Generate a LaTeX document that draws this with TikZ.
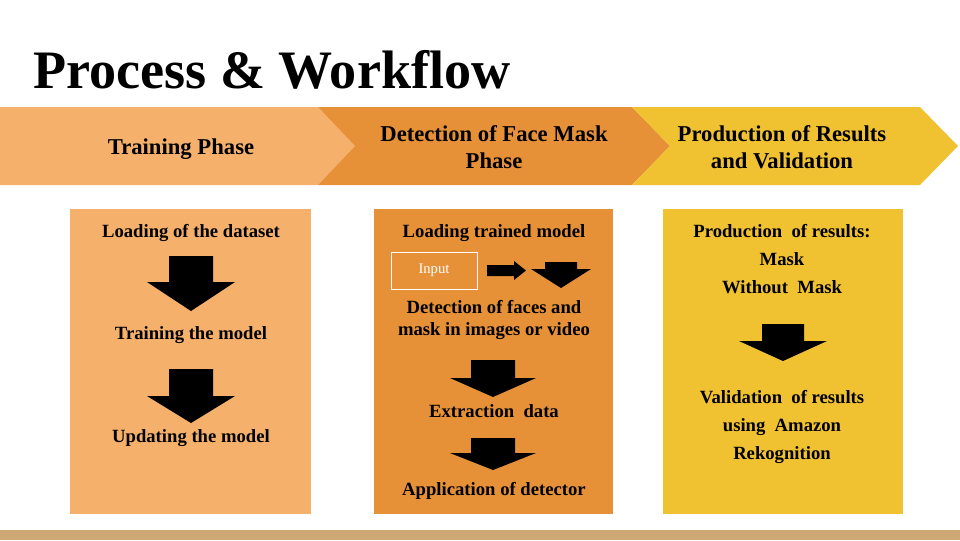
\documentclass[tikz,border=0pt]{standalone}
\usepackage{fontspec}
\setmainfont{Liberation Serif}
\usepackage{tikz}
\definecolor{trainorange}{HTML}{F5B16C}
\definecolor{detectorange}{HTML}{E69138}
\definecolor{resultyellow}{HTML}{F0C232}
\definecolor{footertan}{HTML}{CDA776}

% block arrow pointing down: centre x, shaft top, neck, tip, shaft half width, head half width
\newcommand{\blockdown}[6]{%
	\fill[black] (#1-#5,#2) -- (#1+#5,#2) -- (#1+#5,#3) -- (#1+#6,#3) -- (#1,#4) -- (#1-#6,#3) -- (#1-#5,#3) -- cycle;}

\begin{document}
\begin{tikzpicture}[x=0.75pt,y=-0.75pt,
	phasetext/.style={font=\fontsize{17}{20}\selectfont\bfseries, align=center, anchor=base, inner sep=0pt},
	boxtext/.style={font=\fontsize{14}{16.5}\selectfont\bfseries, align=center, anchor=base, inner sep=0pt},
	listtext/.style={font=\fontsize{14}{20.8}\selectfont\bfseries, align=center, anchor=base, inner sep=0pt}]
	\useasboundingbox (0,0) rectangle (960,540);
	% title
	\node[font=\fontsize{40.6}{44}\selectfont\bfseries, anchor=base west, inner sep=0pt] (title) at (33,88) {Process \& Workflow};
	% chevron band
	\fill[trainorange] (0,107) -- (318,107) -- (355,146) -- (318,185) -- (0,185) -- cycle;
	\fill[detectorange] (318,107) -- (632,107) -- (670,146) -- (632,185) -- (318,185) -- (355,146) -- cycle;
	\fill[resultyellow] (632,107) -- (920,107) -- (958,146) -- (920,185) -- (632,185) -- (670,146) -- cycle;
	% (multi-line nodes sit on the baseline of their last line)
	\node[phasetext] (trainphase) at (181,154) {Training Phase};
	\node[phasetext] (detectphase) at (494,168) {Detection of Face Mask\\Phase};
	\node[phasetext] (resultphase) at (782,168) {Production of Results\\and Validation};
	% panels
	\fill[trainorange] (70,209) rectangle (311,514);
	\fill[detectorange] (374,209) rectangle (613,514);
	\fill[resultyellow] (663,209) rectangle (903,514);
	\fill[footertan] (0,530) rectangle (960,540);
	% training panel
	\node[boxtext] (loaddata) at (191,237) {Loading of the dataset};
	\blockdown{191}{256}{282}{311}{22}{44}
	\node[boxtext] (trainmodel) at (191,339) {Training the model};
	\blockdown{191}{369}{396}{423}{22}{44}
	\node[boxtext] (updatemodel) at (191,442) {Updating the model};
	% detection panel
	\node[boxtext] (loadtrained) at (494,237) {Loading trained model};
	\node[draw=white, line width=0.75pt, minimum width=64.5pt, minimum height=27.75pt, text=white,
		font=\fontsize{11}{13}\selectfont] (input) at (434,270.5) {Input};
	\fill[black] (487,265) -- (514,265) -- (514,261) -- (526,270.5) -- (514,280) -- (514,276) -- (487,276) -- cycle;
	\blockdown{561}{262}{269}{288}{16}{30}
	\node[boxtext] (detectfaces) at (494,335) {Detection of faces and\\mask in images or video};
	\blockdown{493}{360}{378}{397}{22}{43}
	\node[boxtext] (extract) at (494,417) {Extraction\ \ data};
	\blockdown{493}{438}{453}{470}{22}{43}
	\node[boxtext] (apply) at (494,495) {Application of detector};
	% result panel
	\node[listtext] (produce) at (782,293) {Production\ \ of results:\\Mask\\Without\ \ Mask};
	\blockdown{783}{324}{341}{361}{21}{44}
	\node[listtext] (validate) at (782,459) {Validation\ \ of results\\using\ \ Amazon\\Rekognition};
\end{tikzpicture}
\end{document}
